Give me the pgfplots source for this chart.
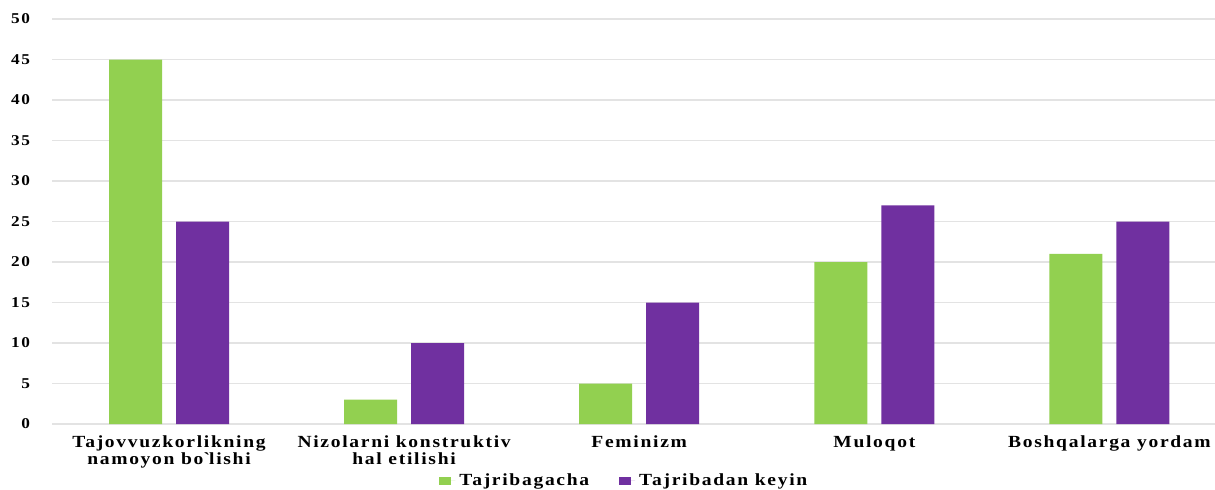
\documentclass[border=0pt]{standalone}
\usepackage{fontspec}
\setmainfont{Liberation Serif}[FakeStretch=1.15, LetterSpace=10]
\usepackage{pgfplots}
\pgfplotsset{compat=1.18}
\definecolor{barGreen}{HTML}{92D050}
\definecolor{barPurple}{HTML}{7030A0}
\definecolor{gridGray}{HTML}{E3E3E3}
\begin{document}
\begin{tikzpicture}
% canvas: 1 px of the reference = 0.5pt, plot area starts at px 52 and ends at the right edge
\useasboundingbox (-26pt,-32.5pt) rectangle (581.5pt,212pt);
\begin{axis}[
    at={(0,0)}, anchor=south west,
    scale only axis,
    width=581.5pt, height=202.5pt,
    ybar=7pt, bar width=26.5pt,
    xmin=-0.4977, xmax=4.449,
    ymin=0, ymax=50,
    ytick={0,5,...,50},
    xtick=data,
    xticklabels={{Tajovvuzkorlikning\\namoyon bo\textasciigrave lishi},{Nizolarni konstruktiv\\hal etilishi},Feminizm,Muloqot,Boshqalarga yordam},
    x tick label style={align=center, font=\fontsize{8.5pt}{8.5pt}\selectfont\bfseries, yshift=-2.5pt},
    y tick label style={font=\fontsize{7.5pt}{9pt}\selectfont\bfseries, xshift=-7.5pt},
    /pgf/number format/assume math mode=true,
    major tick length=0pt,
    axis line style={draw=none},
    ymajorgrids,
    grid style={gridGray, line width=0.8pt},
    legend style={at={(axis description cs:0.493,-0.1407)}, anchor=center, draw=none,
        legend columns=2, font=\fontsize{8.5pt}{9pt}\selectfont\bfseries,
        /tikz/every even column/.append style={column sep=13pt}},
    legend image code/.code={\fill[#1] (0pt,-2pt) rectangle (5.8pt,2.2pt); \path (0pt,0pt) -- (8pt,0pt);},
]
\addplot[draw=none, fill=barGreen] coordinates {(0,45) (1,3) (2,5) (3,20) (4,21)};
\addplot[draw=none, fill=barPurple] coordinates {(0,25) (1,10) (2,15) (3,27) (4,25)};
\legend{Tajribagacha, Tajribadan keyin}
\end{axis}
\end{tikzpicture}
\end{document}
